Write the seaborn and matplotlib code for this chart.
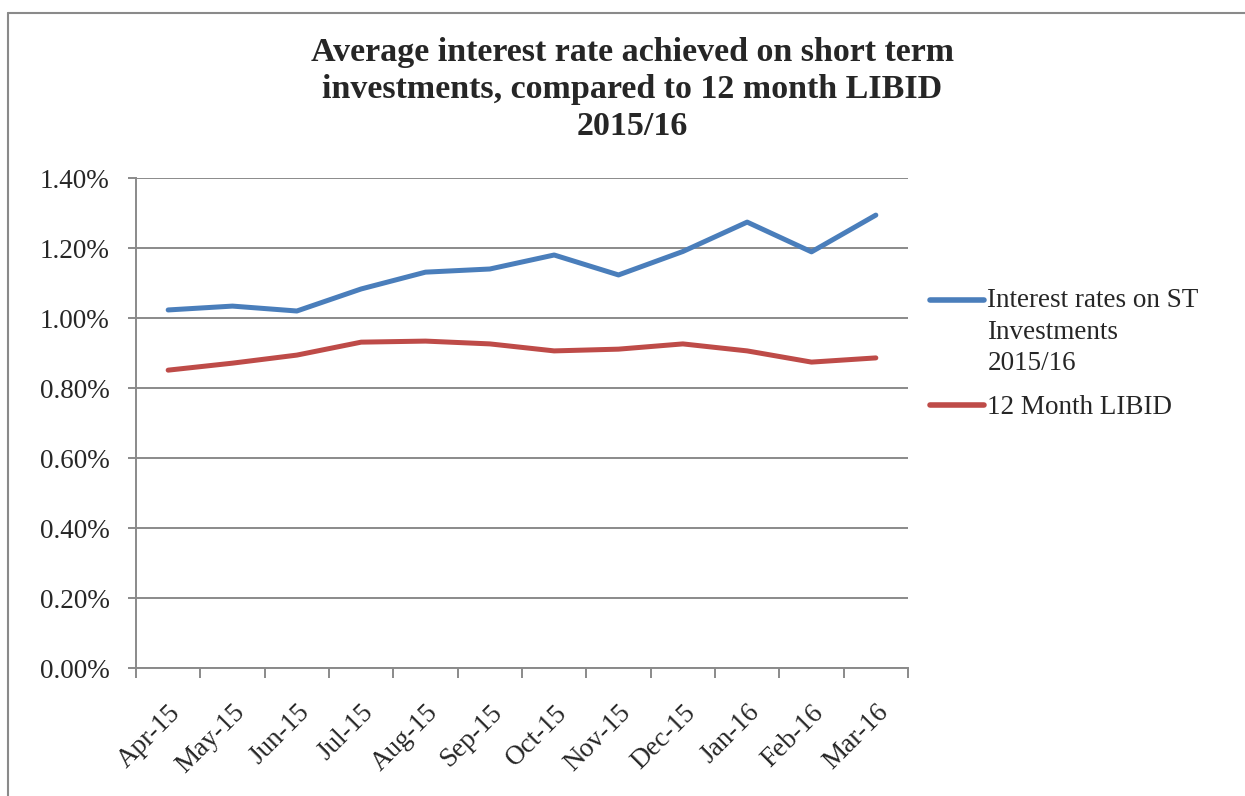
import numpy as np
import pandas as pd
import matplotlib
matplotlib.use("Agg")
import matplotlib.pyplot as plt
import seaborn as sns
from matplotlib.lines import Line2D
from matplotlib.legend_handler import HandlerLine2D
from matplotlib.ticker import FixedLocator, FuncFormatter

months = ["Apr-15", "May-15", "Jun-15", "Jul-15", "Aug-15", "Sep-15",
          "Oct-15", "Nov-15", "Dec-15", "Jan-16", "Feb-16", "Mar-16"]
st_rates = [1.023, 1.034, 1.020, 1.083, 1.131, 1.140,
            1.180, 1.123, 1.190, 1.274, 1.189, 1.294]
libid = [0.851, 0.871, 0.894, 0.931, 0.934, 0.926,
         0.906, 0.911, 0.926, 0.906, 0.874, 0.886]
series_names = ["Interest rates on ST\nInvestments\n2015/16", "12 Month LIBID"]
y_ticks = [0.0, 0.2, 0.4, 0.6, 0.8, 1.0, 1.2, 1.4]

df = pd.DataFrame({
    "pos": list(range(len(months))) * 2,
    "rate": st_rates + libid,
    "series": [series_names[0]] * len(months) + [series_names[1]] * len(months),
})

sns.set_style("white")
plt.rcParams["font.family"] = ["Liberation Serif", "DejaVu Serif"]

FS = 19.5
LEG_LS = 1.35


class FirstLineHandler(HandlerLine2D):
    # put the legend line next to the first text line, like Excel does
    def create_artists(self, legend, orig_handle, xdescent, ydescent, width, height, fontsize, trans):
        artists = super().create_artists(legend, orig_handle, xdescent, ydescent, width, height, fontsize, trans)
        n = orig_handle.get_label().count("\n")
        shift = n / 2 * 1.06 * fontsize * LEG_LS / 1.2
        for a in artists:
            a.set_ydata(np.asarray(a.get_ydata()) + shift)
        return artists


fig = plt.figure(figsize=(12.45, 7.96), dpi=100)
ax = fig.add_axes([136 / 1245, 1 - 668 / 796, (908 - 136) / 1245, (668 - 178) / 796])

grid_c = "#8a8a8a"
sns.lineplot(data=df, x="pos", y="rate", hue="series", hue_order=series_names,
             palette=["#4A7EBB", "#BE4B48"], linewidth=3.6, ax=ax,
             solid_capstyle="round", solid_joinstyle="round")

ax.set_xlim(-0.5, len(months) - 0.5)
ax.set_ylim(0, 1.4)
ax.set_yticks(y_ticks)
ax.yaxis.set_major_formatter(FuncFormatter(lambda v, p: f"{v:.2f}%"))
ax.yaxis.grid(True, color=grid_c, linewidth=1.4)
ax.set_axisbelow(True)

ax.set_xticks(range(len(months)))
ax.set_xticklabels(months, rotation=45, ha="right", rotation_mode="anchor")
ax.xaxis.set_minor_locator(FixedLocator(np.arange(-0.5, len(months), 1.0)))
ax.tick_params(axis="x", which="major", length=0, pad=23, labelsize=FS)
ax.tick_params(axis="x", which="minor", length=7, width=1.4, color=grid_c, direction="out", bottom=True)
ax.tick_params(axis="y", length=6, width=1.4, color=grid_c, direction="out", left=True, labelsize=FS, pad=13)
ax.set_xlabel("")
ax.set_ylabel("")

for side in ["top", "right"]:
    ax.spines[side].set_visible(False)
for side in ["left", "bottom"]:
    ax.spines[side].set_color(grid_c)
    ax.spines[side].set_linewidth(1.4)

handles, labels = ax.get_legend_handles_labels()
leg = ax.legend(handles, labels, loc="upper left", bbox_to_anchor=(930 / 1245, 1 - 288 / 796),
                bbox_transform=fig.transFigure, frameon=False, fontsize=FS,
                handlelength=2.0, handletextpad=0.12, labelspacing=0.7,
                borderaxespad=0, borderpad=0,
                handler_map={Line2D: FirstLineHandler()})
for t in leg.get_texts():
    t.set_linespacing(LEG_LS)
for h in leg.get_lines():
    h.set_linewidth(4)

fig.suptitle("Average interest rate achieved on short term\ninvestments, compared to 12 month LIBID\n2015/16",
             x=0.508, y=1 - 37 / 796, va="top", fontsize=24.5, fontweight="bold", linespacing=1.25)

# chart frame (left and top edges)
fig.add_artist(Line2D([8 / 1245, 8 / 1245], [0, 1 - 13 / 796], transform=fig.transFigure, color=grid_c, linewidth=1.5))
fig.add_artist(Line2D([8 / 1245, 1], [1 - 13 / 796, 1 - 13 / 796], transform=fig.transFigure, color=grid_c, linewidth=1.5))

fig.savefig("out.png", dpi=100, facecolor="white")
